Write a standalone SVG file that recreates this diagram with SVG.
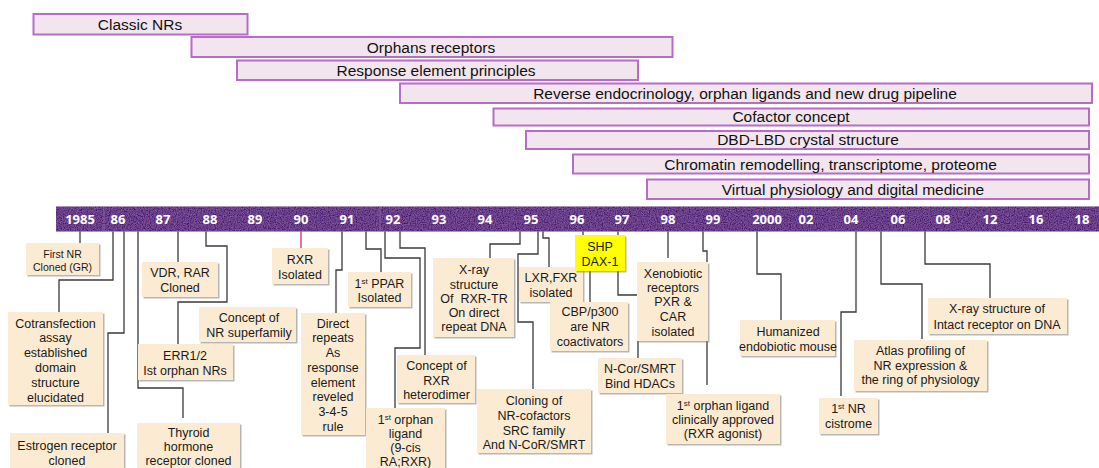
<svg xmlns="http://www.w3.org/2000/svg" width="1099" height="468" viewBox="0 0 1099 468">
<style>
.bar{fill:#F3E5EE;stroke:#B56DC8;stroke-width:2}
.bt{font-family:"Liberation Sans",Arial,sans-serif;font-size:15.5px;fill:#111;text-anchor:middle}
.yr{font-family:"Open Sans","DejaVu Sans",sans-serif;font-weight:bold;font-size:13px;fill:#fff;text-anchor:middle}
.box{fill:#FCEBD3;filter:url(#sh)}
.bx{font-family:"Liberation Sans",Arial,sans-serif;font-size:12.5px;fill:#1a1a1a;text-anchor:middle}
.sm{font-size:10.5px}
.sup{font-size:8px}
#connectors path{fill:none;stroke:#3a3a3a;stroke-width:1.3}
</style>
<defs>
<filter id="sh" x="-10%" y="-10%" width="130%" height="130%">
<feDropShadow dx="1.5" dy="1.5" stdDeviation="0.7" flood-color="#7a7a7a" flood-opacity="0.55"/>
</filter>
<filter id="grain" x="0" y="0" width="100%" height="100%">
<feTurbulence type="fractalNoise" baseFrequency="0.85" numOctaves="2" seed="4" result="n"/>
<feColorMatrix in="n" type="matrix" values="0 0 0 0 0.55  0 0 0 0 0.3  0 0 0 0 0.75  0 0 0 0.6 -0.15" result="c"/>
<feComposite in="c" in2="SourceGraphic" operator="in" result="m"/>
<feMerge><feMergeNode in="SourceGraphic"/><feMergeNode in="m"/></feMerge>
</filter>
</defs>
<rect width="1099" height="468" fill="#fff"/>

<!-- top era bars -->
<g id="classic-nrs"><rect class="bar" x="33.5" y="14" width="214" height="20.5"/><text class="bt" x="140" y="30">Classic NRs</text></g>
<g id="orphans-receptors"><rect class="bar" x="191.5" y="37" width="481" height="20"/><text class="bt" x="431" y="52.5">Orphans receptors</text></g>
<g id="response-element"><rect class="bar" x="237" y="60.5" width="401" height="19.5"/><text class="bt" x="436" y="75.5">Response element principles</text></g>
<g id="reverse-endocrinology"><rect class="bar" x="400" y="83.5" width="692" height="19.5"/><text class="bt" x="745" y="98.5">Reverse endocrinology, orphan ligands and new drug pipeline</text></g>
<g id="cofactor-concept"><rect class="bar" x="493.5" y="108.5" width="595.5" height="17"/><text class="bt" x="791" y="122">Cofactor concept</text></g>
<g id="dbd-lbd"><rect class="bar" x="526" y="131" width="563" height="18"/><text class="bt" x="808" y="144.5">DBD-LBD crystal structure</text></g>
<g id="chromatin"><rect class="bar" x="573" y="154.5" width="516" height="19"/><text class="bt" x="830.5" y="169.5">Chromatin remodelling, transcriptome, proteome</text></g>
<g id="virtual-physiology"><rect class="bar" x="647" y="179.5" width="442" height="19.5"/><text class="bt" x="853" y="194.5">Virtual physiology and digital medicine</text></g>

<!-- timeline -->
<g id="timeline">
<rect x="56" y="206.5" width="1043" height="25" fill="#4A156F" filter="url(#grain)"/>
<g stroke="#8468A6" stroke-width="1" opacity="0.8">
<line x1="104" y1="206.5" x2="104" y2="231.5"/>
<line x1="380" y1="206.5" x2="380" y2="231.5"/>
<line x1="562" y1="206.5" x2="562" y2="231.5" opacity="0.4"/>
<line x1="836" y1="206.5" x2="836" y2="231.5" opacity="0.5"/>
</g>
<text class="yr" x="80" y="224">1985</text>
<text class="yr" x="118" y="224">86</text>
<text class="yr" x="163" y="224">87</text>
<text class="yr" x="210" y="224">88</text>
<text class="yr" x="255" y="224">89</text>
<text class="yr" x="301" y="224">90</text>
<text class="yr" x="347" y="224">91</text>
<text class="yr" x="393" y="224">92</text>
<text class="yr" x="439" y="224">93</text>
<text class="yr" x="485" y="224">94</text>
<text class="yr" x="531" y="224">95</text>
<text class="yr" x="577" y="224">96</text>
<text class="yr" x="622" y="224">97</text>
<text class="yr" x="668" y="224">98</text>
<text class="yr" x="713" y="224">99</text>
<text class="yr" x="767" y="224">2000</text>
<text class="yr" x="806" y="224">02</text>
<text class="yr" x="851" y="224">04</text>
<text class="yr" x="898" y="224">06</text>
<text class="yr" x="943" y="224">08</text>
<text class="yr" x="990" y="224">12</text>
<text class="yr" x="1036" y="224">16</text>
<text class="yr" x="1082" y="224">18</text>
</g>

<!-- connectors -->
<g id="connectors">
<path d="M80,231.5V243"/>
<path d="M113,231.5V280H59V312"/>
<path d="M124,231.5V333H108V433"/>
<path d="M138,231.5V388H183V418"/>
<path d="M178,231.5V262"/>
<path d="M206,231.5V246H227V302H178V344"/>
<path d="M301,231.5V248" style="stroke:#C8306A"/>
<path d="M342,231.5V270H336V313"/>
<path d="M366,231.5V249H381V272"/>
<path d="M385,231.5V258H420V348H395V408"/>
<path d="M400,231.5V248H425V355"/>
<path d="M520,231.5V244H490V258"/>
<path d="M538,231.5V254H518V322H533V389"/>
<path d="M543,231.5V238H549V267"/>
<path d="M583,231.5V235"/>
<path d="M618,231.5V235"/>
<path d="M590,271V302"/>
<path d="M618,271V295H638V358"/>
<path d="M668,231.5V258"/>
<path d="M703,231.5V251H707V385"/>
<path d="M757,231.5V274H781V320"/>
<path d="M856,231.5V312H841V396"/>
<path d="M881,231.5V284H922V339"/>
<path d="M925,231.5V264H990V298"/>
</g>

<!-- event nodes -->
<g id="first-nr"><rect class="box" x="26" y="243" width="73" height="32"/>
<text class="bx sm" x="62.5" y="257.5">First NR</text><text class="bx sm" x="62.5" y="270.5">Cloned (GR)</text></g>

<g id="vdr-rar"><rect class="box" x="142" y="262" width="76" height="35"/>
<text class="bx" x="180" y="277">VDR, RAR</text><text class="bx" x="180" y="291.5">Cloned</text></g>

<g id="rxr-isolated"><rect class="box" x="272" y="248" width="56" height="36"/>
<text class="bx" x="300" y="264">RXR</text><text class="bx" x="300" y="279">Isolated</text></g>

<g id="cotransfection"><rect class="box" x="8" y="312" width="95" height="93"/>
<text class="bx" x="55.5" y="327.5">Cotransfection</text>
<text class="bx" x="55.5" y="342.3">assay</text>
<text class="bx" x="55.5" y="357.1">established</text>
<text class="bx" x="55.5" y="371.9">domain</text>
<text class="bx" x="55.5" y="386.7">structure</text>
<text class="bx" x="55.5" y="401.5">elucidated</text></g>

<g id="nr-superfamily"><rect class="box" x="199" y="307" width="97" height="35"/>
<text class="bx" x="249" y="321.5">Concept of</text><text class="bx" x="249" y="336.5">NR superfamily</text></g>

<g id="err12"><rect class="box" x="138" y="344" width="95" height="36"/>
<text class="bx" x="185" y="360">ERR1/2</text><text class="bx" x="185" y="375">Ist orphan NRs</text></g>

<g id="thyroid"><rect class="box" x="137" y="423" width="103" height="52"/>
<text class="bx" x="188.5" y="436.5">Thyroid</text><text class="bx" x="188.5" y="450.5">hormone</text><text class="bx" x="188.5" y="464.5">receptor cloned</text></g>

<g id="estrogen"><rect class="box" x="10" y="433" width="114" height="42"/>
<text class="bx" x="67" y="450">Estrogen receptor</text><text class="bx" x="67" y="464.5">cloned</text></g>

<g id="direct-repeats"><rect class="box" x="301" y="313" width="64" height="122"/>
<text class="bx" x="333" y="327.7">Direct</text>
<text class="bx" x="333" y="342.4">repeats</text>
<text class="bx" x="333" y="357.1">As</text>
<text class="bx" x="333" y="371.8">response</text>
<text class="bx" x="333" y="386.5">element</text>
<text class="bx" x="333" y="401.2">reveled</text>
<text class="bx" x="333" y="415.9">3-4-5</text>
<text class="bx" x="333" y="430.6">rule</text></g>

<g id="ppar"><rect class="box" x="348" y="272" width="63" height="35"/>
<text class="bx" x="379.5" y="288">1<tspan class="sup" dy="-4">st</tspan><tspan dy="4"> PPAR</tspan></text><text class="bx" x="379.5" y="302">Isolated</text></g>

<g id="rxr-heterodimer"><rect class="box" x="397" y="355" width="78" height="48"/>
<text class="bx" x="436.5" y="370">Concept of</text><text class="bx" x="436.5" y="385">RXR</text><text class="bx" x="436.5" y="399">heterodimer</text></g>

<g id="first-orphan-ligand"><rect class="box" x="366" y="408" width="79" height="64"/>
<text class="bx" x="405.5" y="424">1<tspan class="sup" dy="-4">st</tspan><tspan dy="4"> orphan</tspan></text>
<text class="bx" x="405.5" y="438">ligand</text><text class="bx" x="405.5" y="452">(9-cis</text><text class="bx" x="405.5" y="465.5">RA;RXR)</text></g>

<g id="xray-rxr-tr"><rect class="box" x="433" y="258" width="81" height="79"/>
<text class="bx" x="474" y="274">X-ray</text>
<text class="bx" x="474" y="288.5">structure</text>
<text class="bx" x="474" y="302.5" xml:space="preserve">Of  RXR-TR</text>
<text class="bx" x="474" y="316.7">On direct</text>
<text class="bx" x="474" y="331">repeat DNA</text></g>

<g id="lxr-fxr"><rect class="box" x="519" y="267" width="64" height="35"/>
<text class="bx" x="551" y="281.7">LXR,FXR</text><text class="bx" x="551" y="296.7">isolated</text></g>

<g id="shp-dax1"><rect x="575" y="235" width="50" height="36" fill="#FFFF00" filter="url(#sh)"/>
<text class="bx" x="600" y="251">SHP</text><text class="bx" x="600" y="265.7">DAX-1</text></g>

<g id="cbp-p300"><rect class="box" x="550" y="302" width="78" height="49"/>
<text class="bx" x="590" y="315.5">CBP/p300</text><text class="bx" x="590" y="330.7">are NR</text><text class="bx" x="590" y="345.7">coactivators</text></g>

<g id="ncor-smrt"><rect class="box" x="598" y="358" width="84" height="35"/>
<text class="bx" x="640" y="373.3">N-Cor/SMRT</text><text class="bx" x="640" y="388.3">Bind HDACs</text></g>

<g id="xenobiotic"><rect class="box" x="637" y="262" width="71" height="79"/>
<text class="bx" x="673" y="277.7">Xenobiotic</text>
<text class="bx" x="673" y="292">receptors</text>
<text class="bx" x="673" y="306.3">PXR &amp;</text>
<text class="bx" x="673" y="320.8">CAR</text>
<text class="bx" x="673" y="335.5">isolated</text></g>

<g id="cloning-cofactors"><rect class="box" x="477" y="389" width="114" height="64"/>
<text class="bx" x="534" y="405">Cloning of</text><text class="bx" x="534" y="420">NR-cofactors</text><text class="bx" x="534" y="434.5">SRC family</text><text class="bx" x="534" y="449.3">And N-CoR/SMRT</text></g>

<g id="clinically-approved"><rect class="box" x="666" y="394" width="114" height="50"/>
<text class="bx" x="723" y="410">1<tspan class="sup" dy="-4">st</tspan><tspan dy="4"> orphan ligand</tspan></text>
<text class="bx" x="723" y="424">clinically approved</text><text class="bx" x="723" y="437.7">(RXR agonist)</text></g>

<g id="humanized-mouse"><rect class="box" x="740" y="320" width="95" height="36"/>
<text class="bx" x="788" y="336">Humanized</text><text class="bx" x="788" y="350.7">endobiotic mouse</text></g>

<g id="nr-cistrome"><rect class="box" x="819" y="398" width="59" height="36"/>
<text class="bx" x="848.5" y="413.3">1<tspan class="sup" dy="-4">st</tspan><tspan dy="4"> NR</tspan></text><text class="bx" x="848.5" y="428.3">cistrome</text></g>

<g id="atlas-profiling"><rect class="box" x="854" y="340" width="133" height="51"/>
<text class="bx" x="920.5" y="355">Atlas profiling of</text><text class="bx" x="920.5" y="369.5">NR expression &amp;</text><text class="bx" x="920.5" y="384.3">the ring of physiology</text></g>

<g id="xray-intact"><rect class="box" x="928" y="298" width="139" height="36"/>
<text class="bx" x="997" y="313.3">X-ray structure of</text><text class="bx" x="997" y="329">Intact receptor on DNA</text></g>
</svg>
